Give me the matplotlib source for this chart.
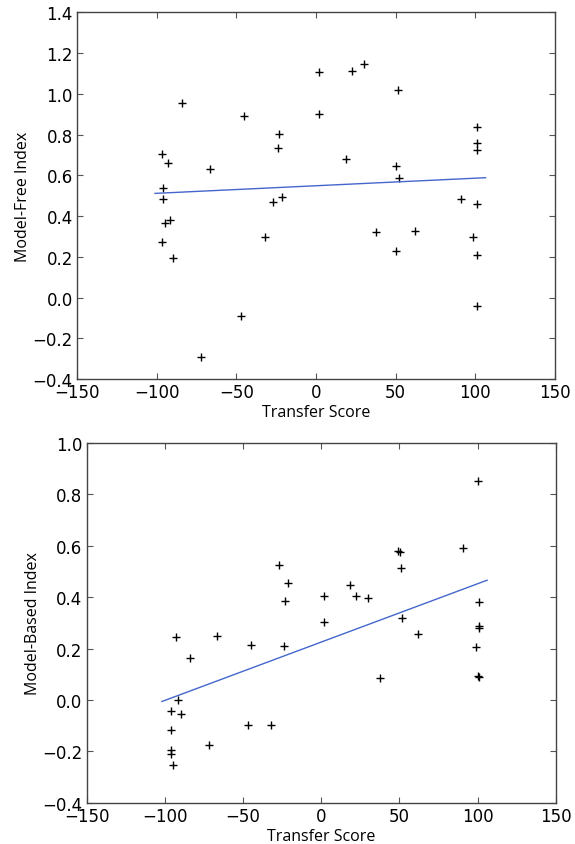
import numpy as np
import matplotlib
matplotlib.use('Agg')
import matplotlib.pyplot as plt

# ======================================================================================================================
#    Data
# ======================================================================================================================
mf_score = [-84.3, -45.0, -96.5, -92.9, -95.9, -96.1, -91.5, -94.8, -96.5, -89.8, -66.7, -23.2, -23.6, -27.0,
            -21.1, -32.0, -47.1, -72.0, 1.8, 2.2, 22.4, 30.1, 51.2, 18.8, 50.1, 52.0, 37.9, 61.9, 50.1, 101.3,
            101.1, 100.9, 91.0, 100.9, 98.8, 100.9, 100.9]
mf_index = [0.953, 0.889, 0.703, 0.660, 0.539, 0.483, 0.380, 0.366, 0.272, 0.194, 0.631, 0.804, 0.735, 0.469,
            0.492, 0.297, -0.089, -0.294, 1.105, 0.899, 1.110, 1.146, 1.019, 0.681, 0.647, 0.585, 0.320, 0.325,
            0.230, 0.835, 0.758, 0.722, 0.482, 0.457, 0.297, 0.209, -0.042]
mf_fit_x = [-101.0, 106.4]
mf_fit_y = [0.511, 0.588]

mb_score = [-27.1, -21.3, -23.0, -23.7, -45.2, -66.9, -93.0, -84.2, -91.4, -95.9, -89.8, -96.2, -96.4, -96.2,
            -94.6, -71.9, -47.1, -32.2, 1.5, 1.7, 18.5, 22.1, 29.8, 49.4, 50.5, 50.9, 51.8, 61.6, 37.7, 90.6,
            100.4, 100.8, 100.8, 100.9, 98.7, 100.4, 100.7]
mb_index = [0.527, 0.457, 0.385, 0.211, 0.214, 0.248, 0.244, 0.165, -0.001, -0.044, -0.054, -0.118, -0.195,
            -0.210, -0.252, -0.176, -0.099, -0.099, 0.405, 0.303, 0.446, 0.405, 0.397, 0.580, 0.575, 0.514, 0.319,
            0.257, 0.087, 0.590, 0.852, 0.381, 0.289, 0.280, 0.208, 0.092, 0.090]
mb_fit_x = [-101.9, 106.1]
mb_fit_y = [-0.006, 0.466]

x_ticks = [-150, -100, -50, 0, 50, 100, 150]
mf_ticks = [-0.4, -0.2, 0.0, 0.2, 0.4, 0.6, 0.8, 1.0, 1.2, 1.4]
mb_ticks = [-0.4, -0.2, 0.0, 0.2, 0.4, 0.6, 0.8, 1.0]

# ======================================================================================================================
#    Plot
# ======================================================================================================================
label_font = dict(family='Open Sans', size=11.5)

fig = plt.figure(figsize=(5.75, 8.45), dpi=100)
ax_top = fig.add_axes([0.1339, 0.5503, 0.8313, 0.4340])
ax_bot = fig.add_axes([0.1508, 0.0488, 0.8157, 0.4258])


def style_axis(ax, y_ticks, y_label):
    ax.set_xlim(-150, 150)
    ax.set_ylim(y_ticks[0], y_ticks[-1])
    ax.set_xticks(x_ticks)
    ax.set_yticks(y_ticks)
    ax.set_xticklabels([str(t).replace('-', '\u2212') for t in x_ticks])
    ax.set_yticklabels([('%.1f' % t).replace('-', '\u2212') for t in y_ticks])
    ax.tick_params(direction='in', length=4, width=0.8, top=True, right=True, labelsize=12, pad=3,
                   color='#555555')
    for spine in ax.spines.values():
        spine.set_color('#444444')
        spine.set_linewidth(1.0)
    ax.set_xlabel('Transfer Score', fontdict=label_font, labelpad=2)
    ax.set_ylabel(y_label, fontdict=label_font, labelpad=1)


ax_top.plot(mf_score, mf_index, '+', color='black', markersize=6, markeredgewidth=1.0)
ax_top.plot(mf_fit_x, mf_fit_y, '-', color='#4466cc', linewidth=1.0)
style_axis(ax_top, mf_ticks, 'Model-Free Index')

ax_bot.plot(mb_score, mb_index, '+', color='black', markersize=6, markeredgewidth=1.0)
ax_bot.plot(mb_fit_x, mb_fit_y, '-', color='#4466cc', linewidth=1.0)
style_axis(ax_bot, mb_ticks, 'Model-Based Index')

fig.savefig('out.png', dpi=100)
